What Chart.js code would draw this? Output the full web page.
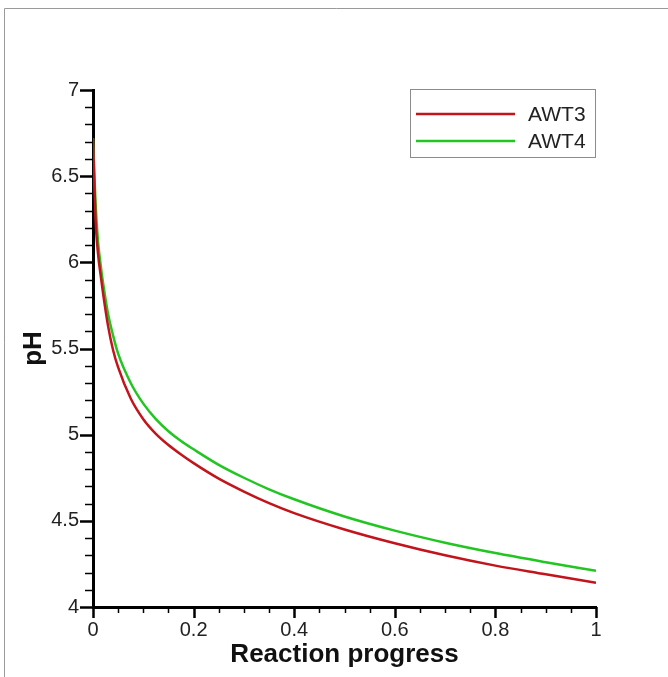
<!DOCTYPE html>
<html>
<head>
<meta charset="utf-8">
<script src="https://cdn.jsdelivr.net/npm/chart.js@4.4.0/dist/chart.umd.min.js"></script>
<style>
  html, body { margin: 0; padding: 0; background: #fff; }
  #wrap { width: 668px; height: 677px; }
</style>
</head>
<body>
<div id="wrap"><canvas id="phChart" width="668" height="677"></canvas></div>
<script>
// values
var progress = [0, 0.005, 0.01, 0.015, 0.02, 0.03, 0.04, 0.05, 0.075, 0.1, 0.125, 0.15, 0.175, 0.2, 0.25, 0.3, 0.35, 0.4, 0.5, 0.6, 0.7, 0.8, 0.9, 1.0];
var awt3 = [6.72, 6.25, 6.05, 5.93, 5.82, 5.63, 5.49, 5.39, 5.21, 5.09, 5.005, 4.94, 4.885, 4.835, 4.745, 4.67, 4.603, 4.545, 4.45, 4.37, 4.30, 4.24, 4.19, 4.14];
var awt4 = [6.72, 6.35, 6.12, 5.99, 5.88, 5.70, 5.575, 5.47, 5.30, 5.18, 5.09, 5.02, 4.963, 4.915, 4.825, 4.75, 4.683, 4.625, 4.525, 4.443, 4.373, 4.313, 4.26, 4.21];
var seriesNames = ['AWT3', 'AWT4'];

var xTicks = [0, 0.2, 0.4, 0.6, 0.8, 1];
var xTickLabels = ['0', '0.2', '0.4', '0.6', '0.8', '1'];
var yTicks = [4, 4.5, 5, 5.5, 6, 6.5, 7];
var yTickLabels = ['4', '4.5', '5', '5.5', '6', '6.5', '7'];

function toPoints(xs, ys) {
    return xs.map(function(x, i) { return { x: x, y: ys[i] }; });
}

function labelFor(value, vals, labels) {
    for (var i = 0; i < vals.length; i++) {
        if (Math.abs(vals[i] - value) < 1e-6) return labels[i];
    }
    return '';
}

// frame, minor/major tick marks and the boxed legend
var decorations = {
    id: 'decorations',
    afterDraw: function(chart) {
        var ctx = chart.ctx;
        var xs = chart.scales.x, ys = chart.scales.y;
        var area = chart.chartArea;
        ctx.save();

        ctx.strokeStyle = '#9a9a9a';
        ctx.lineWidth = 1;
        ctx.beginPath();
        ctx.moveTo(4.5, 677);
        ctx.lineTo(4.5, 8.5);
        ctx.lineTo(668, 8.5);
        ctx.stroke();

        ctx.strokeStyle = '#000';
        var i, v, p, major;
        for (i = 0; i <= 30; i++) {
            v = 4 + i * 0.1;
            major = i % 5 === 0;
            p = Math.round(ys.getPixelForValue(v)) + 0.5;
            ctx.lineWidth = major ? 2.5 : 1.5;
            ctx.beginPath();
            ctx.moveTo(area.left, p);
            ctx.lineTo(area.left - (major ? 13 : 8), p);
            ctx.stroke();
        }
        for (i = 0; i <= 20; i++) {
            v = i * 0.05;
            major = i % 4 === 0;
            p = Math.round(xs.getPixelForValue(v)) + 0.5;
            ctx.lineWidth = major ? 2.5 : 1.5;
            ctx.beginPath();
            ctx.moveTo(p, area.bottom);
            ctx.lineTo(p, area.bottom + (major ? 11 : 6));
            ctx.stroke();
        }

        // legend box
        var bx = 410.5, by = 89.5, bw = 185, bh = 68;
        ctx.fillStyle = '#fff';
        ctx.fillRect(bx, by, bw, bh);
        ctx.strokeStyle = '#8c8c8c';
        ctx.lineWidth = 1;
        ctx.strokeRect(bx, by, bw, bh);
        ctx.font = '21px "Liberation Sans", Arial, sans-serif';
        ctx.textBaseline = 'middle';
        chart.data.datasets.forEach(function(ds, k) {
            var ly = 114 + k * 27;
            ctx.strokeStyle = ds.borderColor;
            ctx.lineWidth = 2.5;
            ctx.beginPath();
            ctx.moveTo(416, ly);
            ctx.lineTo(515, ly);
            ctx.stroke();
            ctx.fillStyle = '#222';
            ctx.fillText(ds.label, 528, ly + 1);
        });
        ctx.restore();
    }
};

var tickFont = { family: '"Liberation Sans", Arial, sans-serif', size: 20 };
var titleFont = { family: '"Liberation Sans", Arial, sans-serif', size: 26, weight: 'bold' };

var chart = new Chart(document.getElementById('phChart'), {
    type: 'line',
    data: {
        datasets: [
            {
                label: seriesNames[0],
                data: toPoints(progress, awt3),
                borderColor: '#c1141b',
                borderWidth: 2.5,
                pointRadius: 0,
                cubicInterpolationMode: 'monotone',
                fill: false
            },
            {
                label: seriesNames[1],
                data: toPoints(progress, awt4),
                borderColor: '#22c522',
                borderWidth: 2.5,
                pointRadius: 0,
                cubicInterpolationMode: 'monotone',
                fill: false
            }
        ]
    },
    options: {
        responsive: false,
        animation: false,
        layout: { padding: { left: 0, top: 90, right: 72, bottom: 0 } },
        plugins: {
            legend: { display: false },
            tooltip: { enabled: false }
        },
        scales: {
            x: {
                type: 'linear',
                min: 0,
                max: 1,
                grid: { display: false, drawTicks: false, tickLength: 0 },
                border: { display: true, color: '#000', width: 3 },
                ticks: {
                    stepSize: 0.2,
                    padding: 11,
                    color: '#222',
                    font: tickFont,
                    maxRotation: 0,
                    callback: function(value) { return labelFor(value, xTicks, xTickLabels); }
                },
                title: {
                    display: true,
                    text: 'Reaction progress',
                    color: '#111',
                    font: titleFont,
                    padding: { top: 0, bottom: 7 }
                },
                afterFit: function(scale) { scale.height = 70; }
            },
            y: {
                min: 4,
                max: 7,
                grid: { display: false, drawTicks: false, tickLength: 0 },
                border: { display: true, color: '#000', width: 3 },
                ticks: {
                    stepSize: 0.5,
                    padding: 14,
                    color: '#222',
                    font: tickFont,
                    callback: function(value) { return labelFor(value, yTicks, yTickLabels); }
                },
                title: {
                    display: true,
                    text: 'pH',
                    color: '#111',
                    font: titleFont,
                    padding: { top: 18, bottom: 0 }
                },
                afterFit: function(scale) { scale.width = 93; }
            }
        }
    },
    plugins: [decorations]
});
</script>
</body>
</html>
